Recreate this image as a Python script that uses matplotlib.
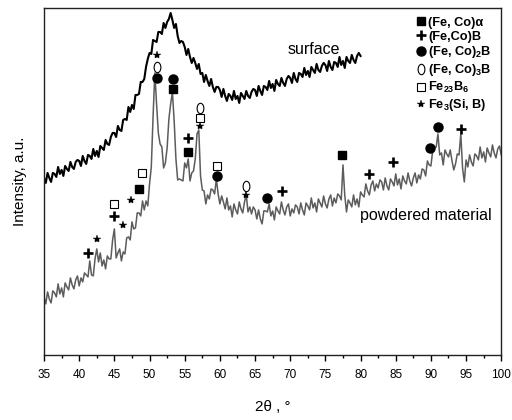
import numpy as np
import matplotlib
matplotlib.use("Agg")
import matplotlib.pyplot as plt
from matplotlib.lines import Line2D
from matplotlib.path import Path
from matplotlib.ticker import MultipleLocator

plt.rcParams['font.family'] = ['Liberation Sans', 'DejaVu Sans']
plt.rcParams['mathtext.fontset'] = 'custom'
plt.rcParams['mathtext.rm'] = 'Liberation Sans'
plt.rcParams['mathtext.bf'] = 'Liberation Sans:bold'

# powdered material, 35..100 deg, step 0.25
powder_x = np.arange(35, 100.001, 0.25)
powder_y = [
    58, 51, 63, 56,  52, 64, 62, 58,  71, 61, 67, 58,  72, 68, 65, 77,
    70, 66, 75, 79,  69, 77, 73, 82,  80, 78, 94, 80,  79, 96, 106, 93,
    102, 89, 95, 86,  99, 96, 96, 115,  126, 97, 102, 106,  94, 103, 101, 117,
    118, 115, 133, 126,  127, 142, 142, 139,  154, 145, 154, 149,
    171, 188, 238, 282,  251, 222, 211, 208,  187, 192, 207, 236,
    251, 263, 234, 196,  175, 176, 175, 174,  192, 187, 196, 174,
    182, 184, 196, 221,  225, 179, 165, 164,  151, 160, 156, 166,
    165, 161, 176, 161,  151, 159, 153, 146,  157, 145, 149, 138,
    151, 145, 141, 153,  146, 142, 153, 160,  143, 148, 141, 148,
    145, 136, 145, 136,  131, 144, 144, 143,  151, 139, 144, 135,
    148, 144, 141, 153,  145, 140, 148, 151,  139, 146, 142, 150,
    148, 141, 152, 145,  140, 152, 149, 145,  157, 147, 152, 143,
    156, 152, 148, 159,  151, 147, 156, 160,  149, 157, 152, 161,
    159, 155, 190, 160,  143, 155, 152, 148,  160, 150, 156, 148,
    163, 160, 158, 171,  164, 160, 170, 174,  164, 171, 167, 175,
    173, 165, 177, 169,  165, 176, 173, 169,  181, 170, 176, 166,
    179, 174, 171, 182,  174, 169, 177, 182,  172, 180, 176, 186,
    185, 179, 194, 190,  189, 204, 207, 208,  221, 200, 202, 190,
    205, 201, 198, 205,  194, 185, 191, 201,  200, 221, 187, 173,
    195, 188, 200, 193,  189, 201, 199, 195,  208, 197, 203, 193,
    207, 202, 198, 210,  202, 197, 206, 209,  200,
]

# surface, 35..80 deg, step 0.25
surface_x = np.arange(35, 80.001, 0.25)
surface_y = [
    177, 172, 182, 177,  173, 182, 181, 178,  188, 181, 185, 179,
    189, 186, 184, 193,  188, 186, 193, 195,  194, 189, 199, 194,
    191, 200, 199, 196,  206, 199, 204, 198,  209, 207, 205, 215,
    211, 210, 218, 222,  222, 218, 229, 225,  224, 235, 236, 235,
    248, 243, 250, 246,  260, 260, 261, 273,  273, 276, 288, 296,
    302, 301, 315, 314,  313, 323, 323, 321,  332, 327, 333, 336,
    342, 335, 327, 331,  319, 312, 314, 313,  308, 300, 306, 298,
    292, 297, 292, 286,  291, 281, 282, 273,  280, 274, 269, 276,
    268, 263, 268, 268,  265, 258, 266, 259,  254, 261, 259, 255,
    264, 256, 259, 252,  262, 259, 256, 264,  259, 257, 263, 266,
    265, 259, 269, 264,  260, 269, 268, 265,  274, 267, 271, 264,
    275, 271, 269, 277,  272, 269, 276, 279,  277, 272, 282, 276,
    273, 282, 281, 278,  287, 280, 284, 278,  288, 285, 282, 291,
    285, 283, 289, 292,  290, 284, 294, 288,  285, 293, 292, 288,
    298, 290, 294, 287,  298, 294, 292, 300,  295, 292, 299, 302,
    299,
]

# phase markers (2theta, height)
fecoa_x = [48.5, 53.3, 55.5, 77.4]
fecoa_y = [166, 266, 203, 200]
fecob_x = [41.3, 45.0, 55.5, 68.9, 81.2, 84.6, 94.3]
fecob_y = [102, 139, 217, 164, 181, 193, 226]
feco2b_x = [51.1, 53.3, 59.6, 66.7, 89.9, 91.0]
feco2b_y = [277, 276, 179, 157, 207, 228]
feco3b_x = [51.1, 57.2, 63.7]
feco3b_y = [288, 247, 169]
fe23b6_x = [45.0, 48.9, 57.2, 59.6]
fe23b6_y = [151, 182, 237, 189]
fe3sib_x = [42.5, 46.2, 47.4, 51.1, 57.2, 63.7]
fe3sib_y = [116, 130, 155, 300, 229, 160]

legend_labels = ['(Fe, Co)α', '(Fe,Co)B', r'(Fe, Co)$_\mathbf{2}$B',
                 r'(Fe, Co)$_\mathbf{3}$B', r'Fe$_\mathbf{23}$B$_\mathbf{6}$',
                 r'Fe$_\mathbf{3}$(Si, B)']

circ = Path.unit_circle()
ellipse = Path(circ.vertices * [0.65, 1.0], circ.codes)

styles = [
    dict(marker='s', ms=5.8, mfc='black', mec='black'),
    dict(marker='+', ms=6.5, mew=1.9, color='black'),
    dict(marker='o', ms=6.5, mfc='black', mec='black'),
    dict(marker=ellipse, ms=7.5, mfc='white', mec='black', mew=0.8),
    dict(marker='s', ms=5.5, mfc='white', mec='black', mew=0.8),
    dict(marker='*', ms=6, mfc='black', mec='black', mew=0.3),
]

fig = plt.figure(figsize=(5.12, 4.2), dpi=100)
ax = fig.add_axes([0.086, 0.155, 0.893, 0.826])

ax.plot(powder_x, powder_y, color='#5c5c5c', lw=1.1)
ax.plot(surface_x, surface_y, color='black', lw=1.5)

series = [(fecoa_x, fecoa_y), (fecob_x, fecob_y), (feco2b_x, feco2b_y),
          (feco3b_x, feco3b_y), (fe23b6_x, fe23b6_y), (fe3sib_x, fe3sib_y)]
for (xs, ys), st in zip(series, styles):
    ax.plot(xs, ys, ls='none', **st)

ax.text(73.4, 301, 'surface', fontsize=11.5, ha='center', va='baseline')
ax.text(89.3, 135, 'powdered material', fontsize=11.5, ha='center', va='baseline')

handles = [Line2D([], [], ls='none', **st) for st in styles]
leg = ax.legend(handles, legend_labels, loc='upper left',
                bbox_to_anchor=(0.814, 0.975), frameon=False,
                borderpad=0, borderaxespad=0, handlelength=0.7,
                handletextpad=0.25, labelspacing=0.15,
                prop={'weight': 'bold', 'size': 9.2})

ax.set_xlim(35, 100)
ax.set_ylim(0, 347)
ax.xaxis.set_major_locator(MultipleLocator(5))
ax.xaxis.set_minor_locator(MultipleLocator(2.5))
ax.tick_params(axis='x', which='major', direction='out', length=4, width=1,
               labelsize=8.5, pad=6)
ax.tick_params(axis='x', which='minor', direction='out', length=2.5, width=1)
ax.set_yticks([])
for s in ax.spines.values():
    s.set_color('#222222')
    s.set_linewidth(1.0)

ax.set_xlabel('2θ , °', fontsize=11, labelpad=14)
ax.set_ylabel('Intensity, a.u.', fontsize=11, labelpad=12)

fig.savefig('out.png', dpi=100)
